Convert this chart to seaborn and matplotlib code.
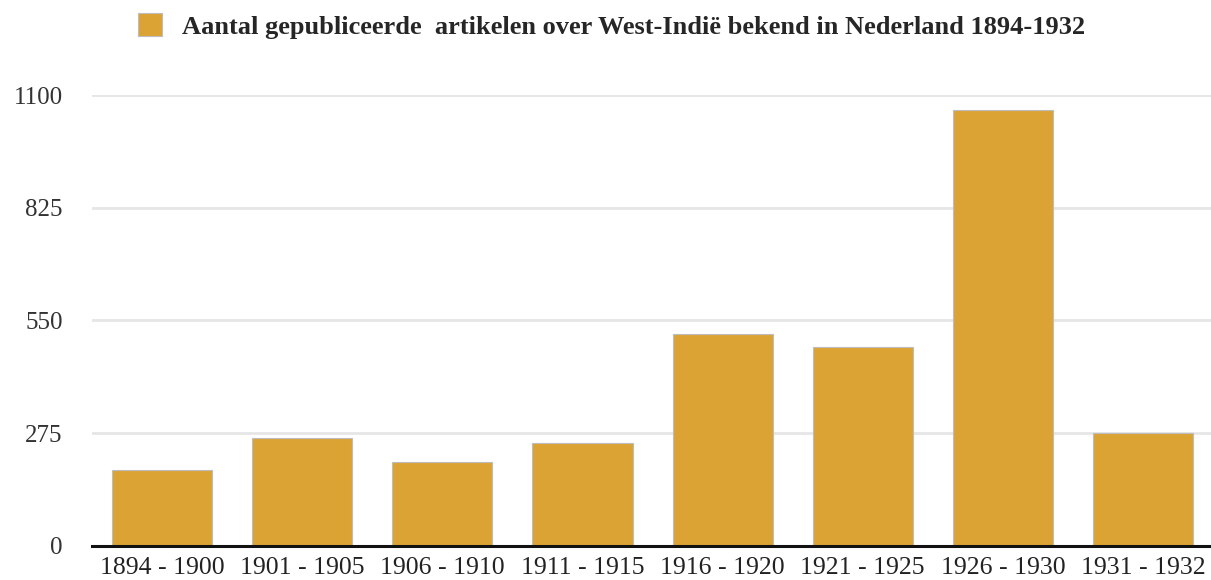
import pandas as pd
import matplotlib.pyplot as plt
import seaborn as sns

periods = ["1894 - 1900", "1901 - 1905", "1906 - 1910", "1911 - 1915",
           "1916 - 1920", "1921 - 1925", "1926 - 1930", "1931 - 1932"]
articles = [185, 263, 205, 251, 517, 485, 1063, 276]
yticks = [0, 275, 550, 825, 1100]
series_name = "Aantal gepubliceerde  artikelen over West-Indië bekend in Nederland 1894-1932"

df = pd.DataFrame({"periode": periods, "artikelen": articles})

sns.set_theme(style="white")
plt.rcParams['font.family'] = ['Liberation Serif', 'DejaVu Serif']

fig = plt.figure(figsize=(12.11, 5.8), dpi=100)
ax = fig.add_axes([0.076, 0.059, 0.9257, 0.777])

sns.barplot(data=df, x="periode", y="artikelen", color="#DBA334", saturation=1,
            width=0.714, edgecolor="#bdbdbd", linewidth=0.8, label=series_name, ax=ax, zorder=3)

ax.set_ylim(0, 1100)
ax.set_xlim(-0.5, len(periods) - 0.5)
ax.set_yticks(yticks)
ax.set_yticklabels([str(t) for t in yticks])
ax.yaxis.grid(True, color="#e6e6e6", linewidth=2, zorder=0)
ax.set_axisbelow(True)
ax.set_xlabel("")
ax.set_ylabel("")
for s in ["top", "right", "left"]:
    ax.spines[s].set_visible(False)
ax.spines["bottom"].set_color("#111111")
ax.spines["bottom"].set_linewidth(2.2)
ax.spines["bottom"].set_zorder(5)
ax.tick_params(axis="y", length=0, pad=21, labelsize=18, labelcolor="#333333")
ax.tick_params(axis="x", length=0, pad=8, labelsize=18.5, labelcolor="#222222")

handles, labels = ax.get_legend_handles_labels()
if ax.get_legend() is not None:
    ax.get_legend().remove()
leg = fig.legend(handles, labels, loc="center", bbox_to_anchor=(0.505, 0.955), frameon=False,
                 prop={"weight": "bold", "size": 19}, handlelength=0.91, handleheight=0.95,
                 handletextpad=0.76)
fig.savefig("out.png", dpi=100)
